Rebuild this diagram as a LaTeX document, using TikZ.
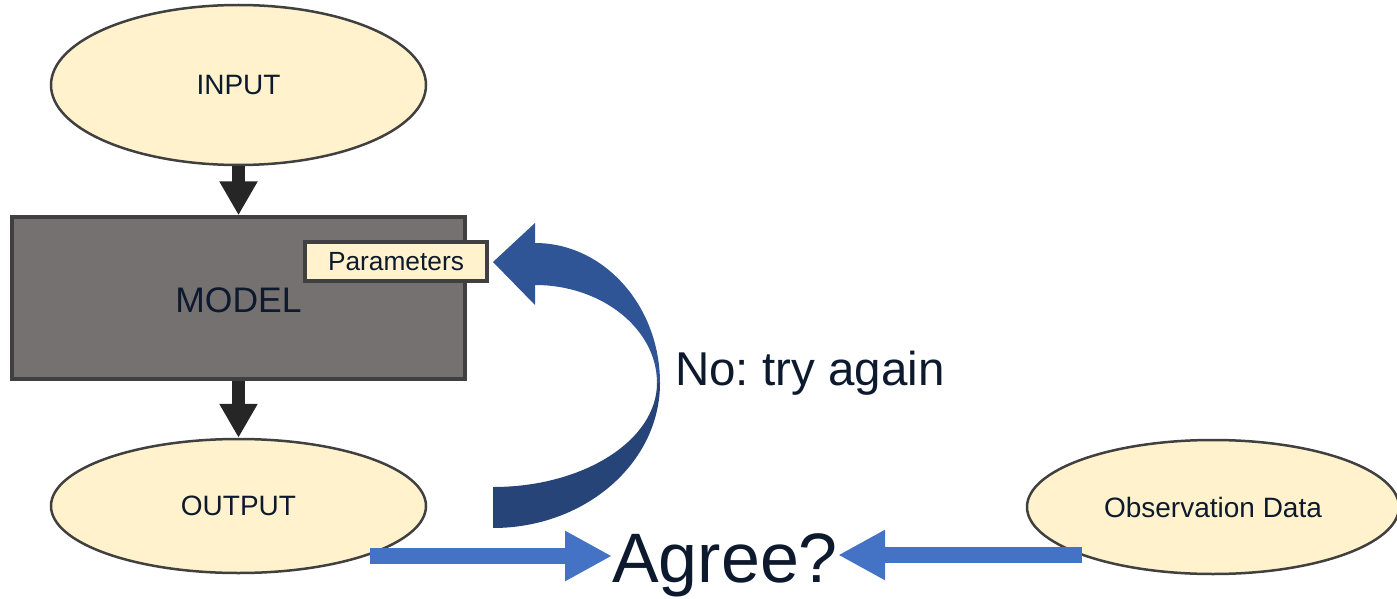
\documentclass[tikz,border=0pt]{standalone}
\usepackage{fontspec}
\setmainfont{Liberation Sans}
\usetikzlibrary{shapes.geometric,arrows.meta,calc}
\frenchspacing

\definecolor{cream}{HTML}{FFF2CC}
\definecolor{edge}{HTML}{404040}
\definecolor{modelgray}{HTML}{767171}
\definecolor{ink}{HTML}{0D1A2E}
\definecolor{flowdark}{HTML}{262626}
\definecolor{feedblue}{HTML}{4472C4}
\definecolor{loopupper}{HTML}{2F5597}
\definecolor{looplower}{HTML}{264478}

\newcommand{\fs}[1]{\fontsize{#1}{1.2\dimexpr#1pt\relax}\selectfont}

\tikzset{
  oval/.style={ellipse, draw=edge, fill=cream, line width=2.5pt, inner sep=0pt,
    text=ink, font=\fs{28}},
  modelbox/.style={rectangle, draw=edge, fill=modelgray, line width=3.5pt, inner sep=0pt,
    text=ink, font=\fs{35.5}},
  parambox/.style={rectangle, draw=edge, fill=cream, line width=3.5pt, inner sep=0pt,
    text=ink, font=\fs{26.3}},
  flow/.style={draw=flowdark, line width=13pt, -{Triangle[width=36pt,length=34pt]}},
  compare/.style={draw=feedblue, line width=16pt, -{Triangle[width=47pt,length=47pt]}},
}

\begin{document}
\begin{tikzpicture}[x=1pt,y=-1pt]
\useasboundingbox (0,0) rectangle (1397,599);

% main chain
\node[oval, minimum width=375pt, minimum height=160pt] (input) at (238.5,85) {INPUT};
\node[modelbox, minimum width=453pt, minimum height=162pt] (model) at (238.5,298) {};
\node[text=ink, font=\fs{35.5}] (modeltxt) at (238.5,300) {MODEL};
\node[parambox, minimum width=182pt, minimum height=39pt] (params) at (396,261.5) {Parameters};
\node[oval, minimum width=375pt, minimum height=134pt] (output) at (238.5,506) {OUTPUT};
\node[oval, minimum width=372pt, minimum height=134pt] (obs) at (1213,507) {Observation Data};

\draw[flow] (input.south) -- (model.north);
\draw[flow] (model.south) -- (output.north);

% comparison
\node[anchor=base west, inner sep=0pt, text=ink, font=\fs{70}] (agree) at (612,582) {Agree?};
\coordinate (outtail) at (370,556);
\coordinate (obstail) at (1082,555);
\draw[compare] (outtail) -- (outtail -| agree.west);
\draw[compare] (obstail) -- (obstail -| agree.east);

% feedback loop back to the parameters
\fill[looplower] (660,383) .. controls (660,463) and (585,528) .. (493,528)
  -- (493,487) .. controls (584,487) and (657,440) .. (657,383) -- cycle;
\fill[loopupper] (535,243) .. controls (604,243) and (660,306) .. (660,383)
  -- (657,383) .. controls (657,329) and (602,285) .. (535,285)
  -- (535,305) -- (493,262) -- (535,223) -- cycle;

\node[anchor=base west, inner sep=0pt, text=ink, font=\fs{47.5}] (retry) at (675,385) {No: try again};
\end{tikzpicture}
\end{document}
